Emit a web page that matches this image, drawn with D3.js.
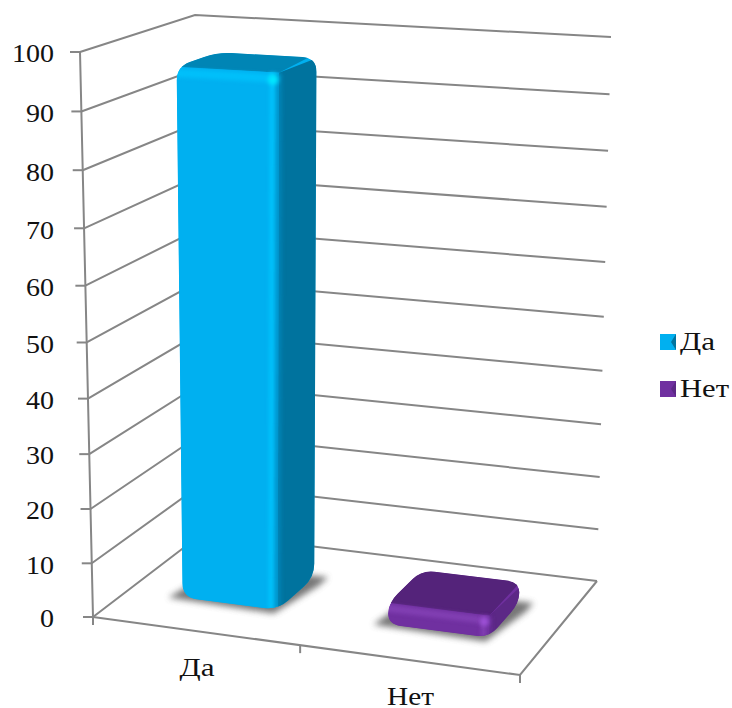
<!DOCTYPE html>
<html><head><meta charset="utf-8">
<script src="https://cdn.jsdelivr.net/npm/d3@7"></script>
<style>html,body{margin:0;background:#fff}svg{display:block}text{font-family:"Liberation Serif",serif;fill:#111}</style>
</head><body><svg id="c" width="732" height="708"></svg>
<script>
const categories = ["Да", "Нет"];
const seriesValues = [96, 4];
const valueTicks = [0, 10, 20, 30, 40, 50, 60, 70, 80, 90, 100];
const frontColors = ["#00B0F0", "#7030A0"];
const topColors = ["#0085B5", "#54237A"];
const sideColors = ["#00739E", "#5C2886"];
const lightColors = ["#00C8FF", "#8A46BC"];

const svg = d3.select("#c");
const defs = svg.append("defs");
function blurFilter(id,sd){
  defs.append("filter").attr("id",id).attr("filterUnits","userSpaceOnUse").attr("x",0).attr("y",0).attr("width",732).attr("height",708)
    .append("feGaussianBlur").attr("stdDeviation",sd);
}
blurFilter("blur",3); blurFilter("soft",2);

function homography(p0,p1,p2,p3){
  const sx=p0[0]-p1[0]+p2[0]-p3[0], sy=p0[1]-p1[1]+p2[1]-p3[1];
  const dx1=p1[0]-p2[0], dx2=p3[0]-p2[0], dy1=p1[1]-p2[1], dy2=p3[1]-p2[1];
  const den=dx1*dy2-dx2*dy1;
  const g=(sx*dy2-dx2*sy)/den, h=(dx1*sy-sx*dy1)/den;
  const a=p1[0]-p0[0]+g*p1[0], b=p3[0]-p0[0]+h*p3[0], c=p0[0];
  const d=p1[1]-p0[1]+g*p1[1], e=p3[1]-p0[1]+h*p3[1], f=p0[1];
  return (u,w)=>{const q=g*u+h*w+1;return [(a*u+b*w+c)/q,(d*u+e*w+f)/q];};
}
const floor = homography([93,617],[520,675],[597,581],[203,533]);
const ceil  = homography([80,52],[534,77],[611,37],[195,15]);
const yScale = d3.scaleLinear().domain([0,100]).range([0,1]);
const k = 0.945;
const warp = t => t*k/(1-t+t*k);
function P(u,w,v){
  const a=floor(u,w), b=ceil(u,w), t=warp(yScale(v));
  return [a[0]+(b[0]-a[0])*t, a[1]+(b[1]-a[1])*t];
}
const xBand = d3.scaleBand().domain(categories).range([0.005,1.005]).paddingInner(0.53).paddingOuter(0.265);
const depth = d3.scaleLinear().domain([0,1]).range([0.30,0.67]);

function label(sel,width){
  return sel.attr("font-size",26).attr("textLength",width).attr("lengthAdjust","spacingAndGlyphs");
}
const line = d3.line();
const grid = svg.append("g").attr("fill","none").attr("stroke","#868686").attr("stroke-width",2);
valueTicks.forEach(v=>{
  grid.append("path").attr("d",line([P(0,0,v),P(0,1,v),P(1,1,v)]));
  const a=P(0,0,v), w=String(v).length*14;
  grid.append("path").attr("d",line([[a[0]-10,a[1]],a]));
  label(svg.append("text").attr("x",54-w).attr("y",a[1]+2).attr("dy","0.32em"),w).text(v);
});
grid.append("path").attr("d",line([P(0,0,100),P(0,0,0),[P(0,0,0)[0],P(0,0,0)[1]+8]]));
grid.append("path").attr("d",line([P(0,0,0),P(1,0,0),P(1,1,0)]));
[0.5,1].forEach(u=>{const a=P(u,0,0);grid.append("path").attr("d",line([a,[a[0],a[1]+8]]));});

function rounded(pts,r){
  const n=pts.length;let d="";
  pts.forEach((p,i)=>{
    const a=pts[(i+n-1)%n], b=pts[(i+1)%n];
    const la=Math.hypot(a[0]-p[0],a[1]-p[1]), lb=Math.hypot(b[0]-p[0],b[1]-p[1]);
    const ra=Math.min(r,la/2), rb=Math.min(r,lb/2);
    const s=[p[0]+(a[0]-p[0])*ra/la,p[1]+(a[1]-p[1])*ra/la];
    const e=[p[0]+(b[0]-p[0])*rb/lb,p[1]+(b[1]-p[1])*rb/lb];
    d+=(i?"L":"M")+s[0]+","+s[1]+"Q"+p[0]+","+p[1]+" "+e[0]+","+e[1];
  });
  return d+"Z";
}
function poly(pts){return line(pts)+"Z";}
const catWidths = [35, 47];
categories.forEach((c,i)=>{
  const u0=xBand(c), u1=u0+xBand.bandwidth(), w0=depth(0), w1=depth(1), v=seriesValues[i];
  const g=svg.append("g");
  g.append("path").attr("d",poly([P(u0-.03,w0-.02,0),P(u1,w0-.04,0),P(u1+.03,w1-.08,0),P(u1+.03,w1+.02,0),P(u0,w1,0)]))
    .attr("fill","#555").attr("opacity",.8).attr("filter","url(#blur)");
  const fbl=P(u0,w0,0),fbr=P(u1,w0,0),ftl=P(u0,w0,v),ftr=P(u1,w0,v);
  const bbr=P(u1,w1,0),btr=P(u1,w1,v),btl=P(u0,w1,v);
  const r=i?13:14;
  const hull=rounded([fbl,fbr,bbr,btr,btl,ftl],r);
  defs.append("clipPath").attr("id","hull"+i).append("path").attr("d",hull);
  const body=g.append("g").attr("clip-path",`url(#hull${i})`);
  body.append("path").attr("d",hull).attr("fill",frontColors[i]);
  body.append("path").attr("d",poly([ftl,ftr,[btr[0]+9,btr[1]-9],[btl[0]-9,btl[1]-9]])).attr("fill",topColors[i]);
  body.append("path").attr("d",poly([ftr,[btr[0]+9,btr[1]-3],[bbr[0]+9,bbr[1]+9],[fbr[0],fbr[1]+9]])).attr("fill",sideColors[i]);
  body.append("path").attr("d",poly([[fbl[0]-9,fbl[1]+9],[fbr[0],fbr[1]+9],ftr,[ftl[0]-9,ftl[1]]])).attr("fill",frontColors[i]);
  const band=i?5:6;
  const strip=(a,b,col,wd,op)=>body.append("path").attr("d",line([a,b])).attr("stroke",col).attr("stroke-width",wd)
    .attr("opacity",op).attr("fill","none").attr("filter","url(#soft)");
  strip([ftl[0]-4,ftl[1]+band],[ftr[0],ftr[1]+band],lightColors[i],band+2,.7);
  strip([ftr[0]-band,ftr[1]],[fbr[0]-band,fbr[1]],lightColors[i],band,.85);
  strip(ftr,fbr,d3.color(sideColors[i]).brighter(.5),band,.8);
  body.append("circle").attr("cx",ftr[0]-band).attr("cy",ftr[1]+band+1).attr("r",band-1).attr("fill",d3.color(lightColors[i]).brighter(.4)).attr("filter","url(#soft)");
  const a=P(u0+xBand.bandwidth()/2,0,0);
  label(svg.append("text").attr("x",a[0]-catWidths[i]/2).attr("y",a[1]+37).attr("dy","0.32em"),catWidths[i]).text(c);
});
const legendY = d3.scalePoint().domain(categories).range([342,389]);
categories.forEach((c,i)=>{
  const y=legendY(c), x0=660, x1=676, y0=y-8, y1=y+8, mx=x0+11;
  svg.append("path").attr("d",poly([[x0,y0],[x1,y0],[x1,y1],[x0,y1]])).attr("fill",frontColors[i]);
  svg.append("path").attr("d",poly([[x1,y0],[x1,y1],[mx,y]])).attr("fill",sideColors[i]);
  label(svg.append("text").attr("x",680).attr("y",y).attr("dy","0.32em"),i?49:35).text(c);
});
</script></body></html>
